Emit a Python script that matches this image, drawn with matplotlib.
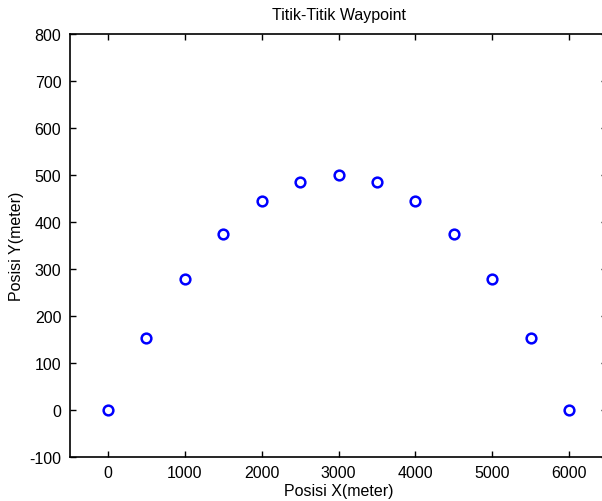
import matplotlib
matplotlib.use("Agg")
import matplotlib.pyplot as plt

x_vals = [0, 500, 1000, 1500, 2000, 2500, 3000, 3500, 4000, 4500, 5000, 5500, 6000]
y_vals = [0, 153, 278, 375, 444, 486, 500, 486, 444, 375, 278, 153, 0]
x_ticks = [0, 1000, 2000, 3000, 4000, 5000, 6000]
y_ticks = [-100, 0, 100, 200, 300, 400, 500, 600, 700, 800]

plt.rcParams['font.family'] = ['Liberation Sans', 'DejaVu Sans']
plt.rcParams['axes.unicode_minus'] = False
fig = plt.figure(figsize=(6.02, 5.02), dpi=100)
ax = fig.add_axes([0.1156, 0.0876, 0.8934, 0.8426])
ax.plot(x_vals, y_vals, linestyle='none', marker='o', markersize=7,
        markerfacecolor='none', markeredgecolor='#0000ff', markeredgewidth=1.8)
ax.set_xlim(-500, 6500)
ax.set_ylim(-100, 800)
ax.set_xticks(x_ticks)
ax.set_yticks(y_ticks)
ax.tick_params(direction='in', top=True, right=True, labelsize=11.5, length=4, width=1, pad=6)
for s in ax.spines.values():
    s.set_linewidth(1.2)
ax.set_title('Titik-Titik Waypoint', fontsize=11.5, pad=11)
ax.set_xlabel('Posisi X(meter)', fontsize=11.5, labelpad=2)
ax.set_ylabel('Posisi Y(meter)', fontsize=11.5, labelpad=4)
fig.savefig('out.png', dpi=100)
